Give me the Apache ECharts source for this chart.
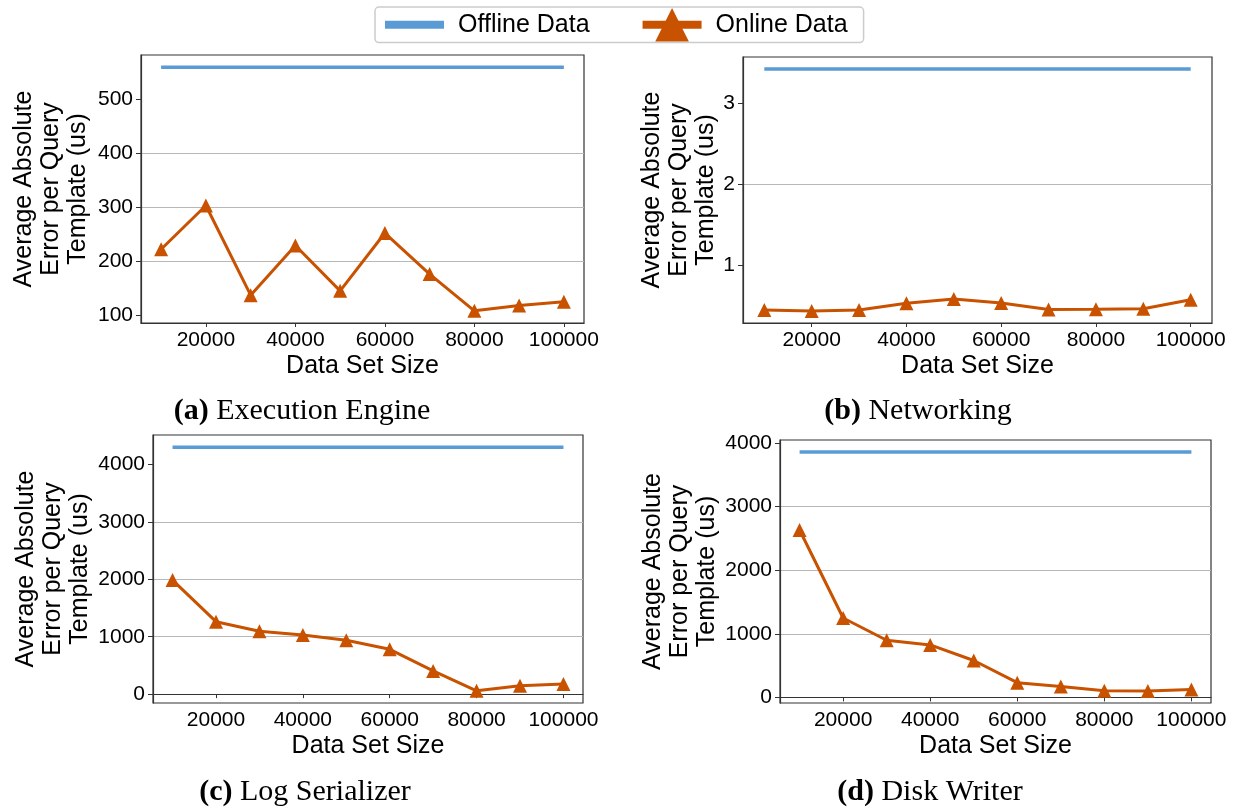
<!DOCTYPE html>
<html>
<head>
<meta charset="utf-8">
<script src="https://cdn.jsdelivr.net/npm/echarts@6/dist/echarts.min.js"></script>
<style>
  html, body { margin: 0; padding: 0; background: #ffffff; }
  #chart { width: 1234px; height: 808px; }
</style>
</head>
<body>
<div id="chart"></div>
<script>
// Data set sizes shared by all four panels
const dataSetSizes = [10000, 20000, 30000, 40000, 50000, 60000, 70000, 80000, 90000, 100000];
const xTickValues = [20000, 40000, 60000, 80000, 100000];

// (a) Execution Engine
const execOffline = [559, 559, 559, 559, 559, 559, 559, 559, 559, 559];
const execOnline  = [222, 303, 137, 229, 145, 252, 176, 108, 118, 125];
const execTicks   = [100, 200, 300, 400, 500];

// (b) Networking
const netOffline = [3.415, 3.415, 3.415, 3.415, 3.415, 3.415, 3.415, 3.415, 3.415, 3.415];
const netOnline  = [0.455, 0.443, 0.455, 0.537, 0.589, 0.540, 0.459, 0.463, 0.470, 0.581];
const netTicks   = [1, 2, 3];

// (c) Log Serializer
const logOffline = [4301, 4301, 4301, 4301, 4301, 4301, 4301, 4301, 4301, 4301];
const logOnline  = [1986, 1262, 1094, 1030, 938, 781, 405, 58, 148, 178];
const logTicks   = [0, 1000, 2000, 3000, 4000];

// (d) Disk Writer
const diskOffline = [3859, 3859, 3859, 3859, 3859, 3859, 3859, 3859, 3859, 3859];
const diskOnline  = [2632, 1248, 898, 825, 580, 232, 170, 105, 100, 123];
const diskTicks   = [0, 1000, 2000, 3000, 4000];

const panelLetters = ['(a)', '(b)', '(c)', '(d)'];
const panelTitles = ['Execution Engine', 'Networking', 'Log Serializer', 'Disk Writer'];
const seriesNames = ['Offline Data', 'Online Data'];
const xTitle = 'Data Set Size';
const yTitle = 'Average Absolute\nError per Query\nTemplate (us)';

const SANS = "'Liberation Sans', Arial, sans-serif";
const SERIF = "'Liberation Serif', 'Times New Roman', serif";
const OFFLINE_COLOR = '#5b9bd5';
const ONLINE_COLOR = '#c85200';

// Layout of each subplot: plot rectangle, y-title gap, split count, caption anchor
const panels = [
  { offline: execOffline, online: execOnline, ticks: execTicks,
    grid: { left: 141, top: 55, width: 443, height: 268 }, nameGap: 49, split: 5, cap: [302, 411] },
  { offline: netOffline, online: netOnline, ticks: netTicks,
    grid: { left: 743, top: 57, width: 469, height: 266 }, nameGap: 22, split: 4, cap: [918, 411] },
  { offline: logOffline, online: logOnline, ticks: logTicks,
    grid: { left: 153, top: 435, width: 430, height: 268 }, nameGap: 59, split: 5, cap: [305, 792] },
  { offline: diskOffline, online: diskOnline, ticks: diskTicks,
    grid: { left: 780, top: 440, width: 431, height: 263 }, nameGap: 59, split: 5, cap: [930, 792] }
];

// matplotlib-style autoscale: data range padded by 5% on each side
function padded(values) {
  const lo = Math.min.apply(null, values);
  const hi = Math.max.apply(null, values);
  const m = (hi - lo) * 0.05;
  return [lo - m, hi + m];
}

const plainNumber = (v) => String(v);
const xExtent = padded(dataSetSizes);
const pairs = (ys) => dataSetSizes.map((x, i) => [x, ys[i]]);

const grids = [], xAxes = [], yAxes = [], series = [], graphics = [];

panels.forEach((p, i) => {
  grids.push(Object.assign({
    show: true, borderColor: '#333333', borderWidth: 1.2, backgroundColor: 'transparent'
  }, p.grid));

  xAxes.push({
    type: 'value', gridIndex: i,
    min: xExtent[0], max: xExtent[1], splitNumber: 5,
    name: xTitle, nameLocation: 'middle', nameGap: 31,
    nameTextStyle: { fontFamily: SANS, fontSize: 25, color: '#000000' },
    axisLine: { show: true, lineStyle: { color: '#333333', width: 1.2 } },
    axisTick: { show: true, length: 4, customValues: xTickValues, lineStyle: { color: '#333333', width: 1 } },
    axisLabel: { customValues: xTickValues, formatter: plainNumber, margin: 7,
                 fontFamily: SANS, fontSize: 21, color: '#000000' },
    splitLine: { show: false }
  });

  const ext = padded(p.offline.concat(p.online));
  yAxes.push({
    type: 'value', gridIndex: i,
    min: ext[0], max: ext[1], splitNumber: p.split,
    name: yTitle, nameLocation: 'middle', nameRotate: 90, nameGap: p.nameGap,
    nameTextStyle: { fontFamily: SANS, fontSize: 25, lineHeight: 27, color: '#000000', align: 'center' },
    axisLine: { show: true, lineStyle: { color: '#333333', width: 1.2 } },
    axisTick: { show: true, length: 5, customValues: p.ticks, lineStyle: { color: '#333333', width: 1 } },
    axisLabel: { customValues: p.ticks, formatter: plainNumber, margin: 8,
                 fontFamily: SANS, fontSize: 21, color: '#000000' },
    splitLine: { show: true, showMinLine: false, showMaxLine: false,
                 lineStyle: { color: '#b8b8b8', width: 1 } }
  });

  series.push({
    name: seriesNames[0], type: 'line', xAxisIndex: i, yAxisIndex: i,
    data: pairs(p.offline), symbol: 'none', showSymbol: false,
    lineStyle: { color: OFFLINE_COLOR, width: 3.5 }, itemStyle: { color: OFFLINE_COLOR },
    z: 2
  });
  series.push({
    name: seriesNames[1], type: 'line', xAxisIndex: i, yAxisIndex: i,
    data: pairs(p.online), symbol: 'triangle', symbolSize: 14, showSymbol: true,
    lineStyle: { color: ONLINE_COLOR, width: 3 }, itemStyle: { color: ONLINE_COLOR },
    z: 3
  });

  graphics.push({
    type: 'text', x: p.cap[0], y: p.cap[1],
    style: {
      text: '{b|' + panelLetters[i] + '} ' + panelTitles[i],
      fontFamily: SERIF, fontSize: 30, fill: '#000000',
      align: 'center', verticalAlign: 'middle',
      rich: { b: { fontFamily: SERIF, fontSize: 30, fontWeight: 'bold', fill: '#000000' } }
    }
  });
});

const chart = echarts.init(document.getElementById('chart'), null, { renderer: 'canvas' });
chart.setOption({
  animation: false,
  backgroundColor: '#ffffff',
  legend: {
    left: 375, top: 7, orient: 'horizontal',
    padding: [1, 16, 1, 6],
    itemWidth: 59, itemHeight: 42, itemGap: 49,
    borderColor: '#cccccc', borderWidth: 1.5, borderRadius: 4, backgroundColor: '#ffffff',
    lineStyle: { width: 8 },
    textStyle: { fontFamily: SANS, fontSize: 25, color: '#000000', padding: [0, 0, 0, 9] },
    data: [
      { name: seriesNames[0], itemStyle: { opacity: 0 } },
      { name: seriesNames[1] }
    ]
  },
  grid: grids,
  xAxis: xAxes,
  yAxis: yAxes,
  series: series,
  graphic: graphics
});
</script>
</body>
</html>
